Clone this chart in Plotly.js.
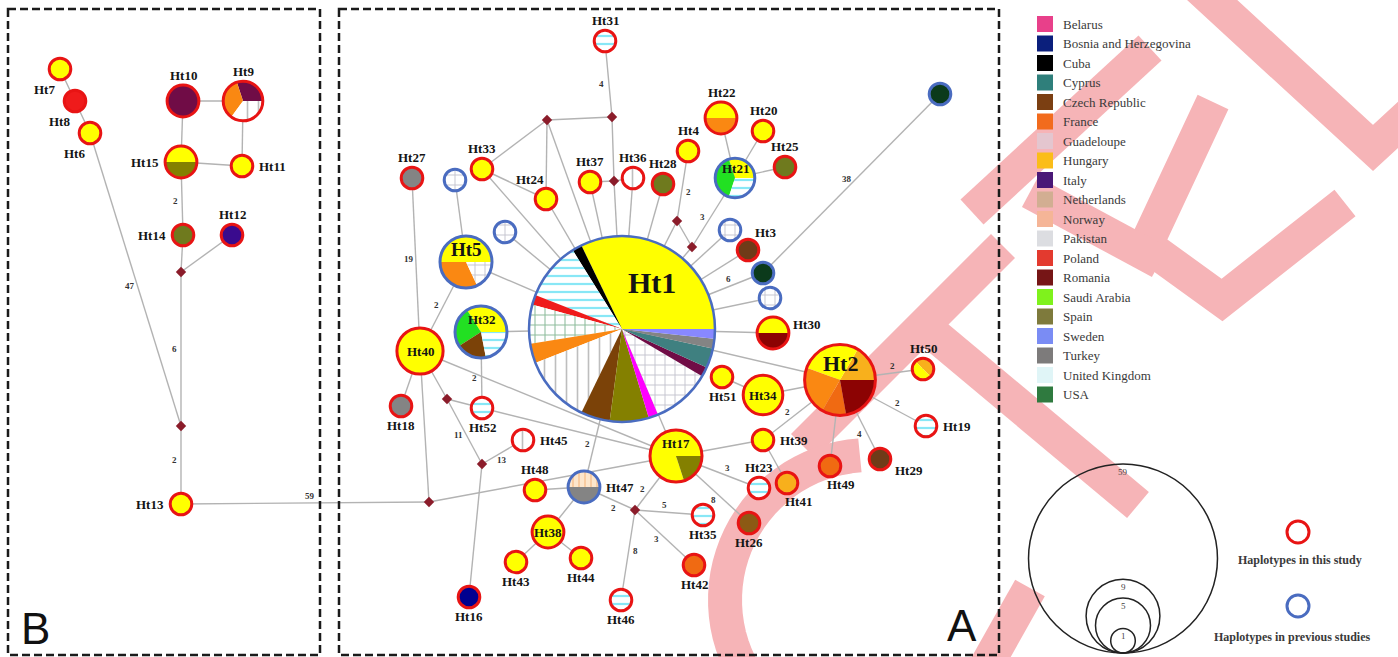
<!DOCTYPE html>
<html><head><meta charset="utf-8">
<script src="https://cdn.plot.ly/plotly-3.0.1.min.js"></script>
<style>html,body{margin:0;padding:0;background:#fff;}#chart{width:1398px;height:657px;}</style>
</head><body><div id="chart"></div>
<script>
// ---------------- DATA ----------------
const countries = ['Belarus','Bosnia and Herzegovina','Cuba','Cyprus','Czech Republic','France','Guadeloupe','Hungary','Italy','Netherlands','Norway','Pakistan','Poland','Romania','Saudi Arabia','Spain','Sweden','Turkey','United Kingdom','USA'];
const countryColors = ['#e8408a','#0b1f7c','#000000','#2f7f7b','#7b3f12','#f26b1d','#e4c6cf','#fbbd19','#4a1877','#d2ae92','#f5b597','#dcdde1','#e33a2f','#761516','#7ff21c','#7e7a3c','#7a8cf4','#7d7b7b','#e0f5f7','#2f7a3f'];

const nodeIds = ['Ht1','Ht2','Ht3','Ht4','Ht5','Ht6','Ht7','Ht8','Ht9','Ht10','Ht11','Ht12','Ht13','Ht14','Ht15','Ht16','Ht17','Ht18','Ht19','Ht20','Ht21','Ht22','Ht23','Ht24','Ht25','Ht26','Ht27','Ht28','Ht29','Ht30','Ht31','Ht32','Ht33','Ht34','Ht35','Ht36','Ht37','Ht38','Ht39','Ht40','Ht41','Ht42','Ht43','Ht44','Ht45','Ht46','Ht47','Ht48','Ht49','Ht50','Ht51','Ht52','p1','p2','p3','p4','p5','p6'];
const nodeX = [622,840,748,688,466,90,60,75,243,183,242,232,181,183,181,469,676,401,926,763,735,721,759,546,785,749,412,663,880,773,605,481,482,763,703,633,590,548,763,420,787,694,516,581,523,621,584,535,830,923,722,482,455,505,730,770,940,763];
const nodeY = [329,380,250,151,262,133,69,101,101,101,166,235,504,235,162,597,456,406,426,131,178,118,488,199,167,523,178,184,459,333,41,332,169,395,515,178,182,532,440,351,483,565,562,558,440,600,487,490,466,369,377,408,180,232,230,298,94,273];
const nodeCount = [59,9,1,1,5,1,1,1,3,2, 1,1,1,1,2,1,5,1,1,1, 3,2,1,1,1,1,1,1,1,2, 1,5,1,3,1,1,1,2,1,4, 1,1,1,1,1,1,2,1,1,1, 1,1,1,1,1,1,1,1];
const nodeStudy = ['P','T','T','T','P','T','T','T','T','T', 'T','T','T','T','T','T','T','T','T','T', 'P','T','T','T','T','T','T','T','T','T', 'T','P','T','T','T','T','T','T','T','T', 'T','T','T','T','T','T','P','T','T','T', 'T','T','P','P','P','P','P','P'];
const nodeFills = [
 ['yellow','black','hatchCyan','red','gridGreen','orange','hatchVert','brown','olive','magenta','gridGrey','maroon','teal','grey','lavender'],
 ['amber','yellow','orange','orange2','darkred'],
 ['rust'],['yellow'],['yellow','orange','gridGrey'],['yellow'],['yellow'],['red'],
 ['maroon','orange','white','hatchVert'],['maroon'],['yellow'],['indigo'],['yellow'],['olive2'],
 ['yellow','olive'],['navy'],['yellow','olive'],['grey'],['hatchCyan'],['yellow'],
 ['yellow','green','hatchCyan'],['yellow','orange'],['hatchCyan'],['yellow'],['olive2'],['umber'],
 ['grey'],['olive2'],['rust'],['yellow','darkred'],['hatchCyan'],['yellow','green','brown','hatchCyan'],
 ['yellow'],['yellow'],['hatchCyan'],['hatchVert'],['yellow'],['yellow'],['yellow'],['yellow'],
 ['amber'],['orange2'],['yellow'],['yellow'],['hatchVert'],['hatchCyan'],['hatchPeach','grey'],
 ['yellow'],['orange2'],['amber','yellow'],['yellow'],['hatchCyan'],
 ['gridGrey'],['gridGrey'],['gridGrey'],['gridGrey'],['darkgreen'],['darkgreen']
];
const nodeShares = [
 [19,1,6,1,4,2,7,3,4,1,6,1,2,1,1],
 [1.5,2.5,2,1,2],
 [1],[1],[2.5,1.6,0.9],[1],[1],[1],
 [0.9,1.05,0.3,0.75],[2],[1],[1],[1],[1],
 [1,1],[1],[4,1],[1],[1],[1],
 [0.9,1.2,0.9],[1,1],[1],[1],[1],[1],
 [1],[1],[1],[1,1],[1],[1.7,1.25,0.95,1.1],
 [1],[3],[1],[1],[1],[2],[1],[4],
 [1],[1],[1],[1],[1],[1],[1,1],
 [1],[1],[0.5,0.5],[1],[1],
 [1],[1],[1],[1],[1],[1]
];
const nodeStartDeg = nodeIds.map(id => id === 'Ht50' ? 315 : 0);
const nodeLabelPos = ['big','cu','ur','a','cu','bl','bl','bl','a','a', 'r','a','l','l','l','b','cu','b','r','a', 'cu','a','a','ul','a','b','a','a','rd','ru', 'a','cu','a','c','b','a','a','c','r','c', 'br','b','b','b','r','b','r','a','br','a', 'b','b','none','none','none','none','none','none'];

const medIds = ['mB0','mB1','mA','mB','mC','mD','mE','mF','mG','mH','mI'];
const medX = [181,181,547,612,614,677,692,447,482,429,635];
const medY = [272,426,120,117,181,221,247,399,464,502,510];

const edgeFrom = ['Ht7','Ht8','Ht6','Ht10','Ht10','Ht9','Ht15','Ht15','Ht14','Ht12','mB0','mB1','Ht13',
 'Ht27','Ht40','Ht32','mF','mG','Ht31','Ht4','mE','p6','p5','Ht2','Ht2','Ht2','Ht39','Ht47','Ht17','Ht47','mI','Ht17','Ht17','mI','mI',
 'mA','mA','mA','mA','Ht33','Ht33','p1','p2','Ht24','Ht37','mC','mC','mC','Ht37','Ht36','Ht28','mD','mD','mE','Ht21','Ht21','Ht21','p3','Ht3','p4','Ht30','Ht2','Ht32','Ht5','Ht40','Ht52','Ht1','Ht40','Ht40','mF','Ht40','mH','mG','Ht48','Ht47','Ht38','Ht38','Ht17','Ht39','Ht2','Ht34','Ht2'];
const edgeTo = ['Ht8','Ht6','mB1','Ht9','Ht15','Ht11','Ht11','Ht14','mB0','mB0','mB1','Ht13','mH',
 'Ht40','Ht5','Ht52','mG','Ht45','mB','mD','Ht21','Ht1','p6','Ht50','Ht19','Ht29','Ht2','Ht1','mI','mI','Ht35','Ht23','Ht26','Ht42','Ht46',
 'Ht33','mB','Ht24','Ht1','Ht24','Ht1','Ht5','Ht1','Ht1','mC','mB','Ht1','Ht36','Ht1','Ht1','Ht1','mE','Ht1','Ht1','Ht22','Ht20','Ht25','Ht1','Ht1','Ht1','Ht1','Ht1','Ht1','Ht1','Ht17','Ht17','Ht17','Ht18','mF','Ht52','mH','Ht17','Ht16','Ht47','Ht38','Ht43','Ht44','Ht39','Ht41','Ht34','Ht51','Ht49'];
const edgeSteps = ['','','47','','','','','2','','','6','2','59',
 '19','2','2','11','13','4','2','3','6','38','2','2','4','2','2','2','2','5','3','8','3','8'];
// which side of its edge the step count is printed on (1 = upper/left, -1 = opposite)
const edgeLabelSide = [1,1,1,1,1,1,1,1,1,1,1,1,1, 1,1,1,1,-1,1,-1,1,1,1,1,1,1,1,1,1,-1,1,1,-1,-1,-1];

const sizeLegendCounts = [59,9,5,1];
const studyLegendText = ['Haplotypes in this study','Haplotypes in previous studies'];

// ---------------- STYLE ----------------
const W = 1398, H = 657, K = 12.3;
const fillStyles = {
  yellow:{c:'#ffff00'}, amber:{c:'#f8b01c'}, orange:{c:'#fa8812'}, orange2:{c:'#f06a12'},
  red:{c:'#ef1b1b'}, darkred:{c:'#8c0303'}, olive:{c:'#848000'}, olive2:{c:'#6f7a1e'},
  brown:{c:'#7b4208'}, rust:{c:'#6f3b18'}, umber:{c:'#8c5a14'}, green:{c:'#22e022'},
  black:{c:'#000000'}, magenta:{c:'#ff00ff'}, maroon:{c:'#700c46'}, indigo:{c:'#3a0b8e'},
  teal:{c:'#3f8080'}, grey:{c:'#848484'}, lavender:{c:'#8888ff'}, navy:{c:'#00008f'},
  darkgreen:{c:'#0b3a1b'}, white:{c:'#ffffff'},
  hatchCyan:{c:'#ffffff', p:'-', f:'#12d0ee', s:8, d:0.28},
  hatchVert:{c:'#ffffff', p:'|', f:'#7e7e7e', s:11, d:0.15},
  gridGreen:{c:'#ffffff', p:'+', f:'#1d7a3c', s:10, d:0.2},
  gridGrey:{c:'#ffffff', p:'+', f:'#80809a', s:10, d:0.17},
  hatchPeach:{c:'#fde6cc', p:'|', f:'#f2a25a', s:6, d:0.25}
};
const RED = '#e81414', BLUE = '#4a6cc0';
const serif = 'Liberation Serif, Times New Roman, serif';

const rOf = n => K * Math.sqrt(n);
const pos = {};
nodeIds.forEach((id,i) => pos[id] = {x:nodeX[i], y:nodeY[i], r:rOf(nodeCount[i])});
medIds.forEach((id,i) => pos[id] = {x:medX[i], y:medY[i], r:3});

const traces = [], shapes = [], annotations = [];

// watermark (decorative stamp)
const wmPaths = ['M1185,-25 L1373,148 L1425,100','M1150,48 L972,212','M1213,102 L1146,245 L1222,300 L1345,203',
  'M1030,192 L1160,262','M912,316 L1138,505','M803,446 L1003,246','M1030,588 L985,668'];
let arc = '';
for (let a = 266; a >= 140; a -= 4) {
  const t = a*Math.PI/180;
  arc += (arc ? ' L' : 'M') + (870 + 145*Math.cos(t)).toFixed(1) + ',' + (600 + 145*Math.sin(t)).toFixed(1);
}
wmPaths.push(arc);
wmPaths.forEach(p => shapes.push({type:'path', path:p, xref:'x', yref:'y', layer:'below',
  line:{color:'#f6b4b7', width:34}, fillcolor:'rgba(0,0,0,0)'}));

// dashed panels
[[8,9,320,655],[339,9,999,655]].forEach(b => shapes.push({type:'rect', xref:'x', yref:'y', x0:b[0], y0:b[1], x1:b[2], y1:b[3],
  line:{color:'#1a1a1a', width:2.5, dash:'8px,4px'}, layer:'above'}));
annotations.push({x:35, y:628, xref:'x', yref:'y', text:'B', showarrow:false, font:{family:'Liberation Sans, Arial', size:44, color:'#111'}});
annotations.push({x:962, y:625, xref:'x', yref:'y', text:'A', showarrow:false, font:{family:'Liberation Sans, Arial', size:44, color:'#111'}});

// edges
const ex = [], ey = [];
edgeFrom.forEach((a,i) => { const A = pos[a], B = pos[edgeTo[i]]; ex.push(A.x, B.x, null); ey.push(A.y, B.y, null); });
traces.push({type:'scatter', mode:'lines', x:ex, y:ey, line:{color:'#b3b3b3', width:1.4}, hoverinfo:'skip', showlegend:false});
// mutation step labels
edgeSteps.forEach((s,i) => {
  if (!s) return;
  const A = pos[edgeFrom[i]], B = pos[edgeTo[i]];
  const dx = B.x - A.x, dy = B.y - A.y, L = Math.hypot(dx,dy), ux = dx/L, uy = dy/L;
  const sx = A.x + ux*A.r, sy = A.y + uy*A.r, tx = B.x - ux*B.r, ty = B.y - uy*B.r;
  let nx = -uy, ny = ux; if (nx + ny > 0) { nx = -nx; ny = -ny; }
  const sd = edgeLabelSide[i] * 7;
  annotations.push({x:(sx+tx)/2 + nx*sd, y:(sy+ty)/2 + ny*sd, xref:'x', yref:'y', text:'<b>'+s+'</b>', showarrow:false,
    font:{family:serif, size:9, color:'#333'}});
});
// median vectors
traces.push({type:'scatter', mode:'markers', x:medX, y:medY, marker:{symbol:'diamond', size:8, color:'#8b1c2a'}, hoverinfo:'skip', showlegend:false});

// legend squares
const legY = countries.map((c,i) => 24 + i*19.5);
traces.push({type:'scatter', mode:'markers', x:countries.map(() => 1045), y:legY,
  marker:{symbol:'square', size:16, color:countryColors}, hoverinfo:'skip', showlegend:false});
countries.forEach((c,i) => annotations.push({x:1061, y:legY[i], xref:'x', yref:'y', xanchor:'left', text:c, showarrow:false,
  font:{family:serif, size:13, color:'#3a3a3a'}}));

// node pies
const norm = a => ((a + 180) % 360 + 360) % 360 - 180;
nodeIds.forEach((id,i) => {
  const r = rOf(nodeCount[i]), rp = r - 2, cx = nodeX[i], cy = nodeY[i];
  const vals = nodeShares[i], tot = vals.reduce((a,b) => a+b, 0);
  const st = nodeFills[i].map(k => fillStyles[k]);
  traces.push({type:'pie', values:vals, sort:false, direction:'counterclockwise',
    rotation: norm(90 - nodeStartDeg[i] - vals[0]/tot*360),
    textinfo:'none', hoverinfo:'none', showlegend:false,
    domain:{x:[(cx-rp)/W, (cx+rp)/W], y:[1-(cy+rp)/H, 1-(cy-rp)/H]},
    marker:{colors:st.map(s => s.c), line:{width:0},
      pattern:{shape:st.map(s => s.p || ''), fgcolor:st.map(s => s.f || s.c), bgcolor:st.map(s => s.c),
        size:st.map(s => s.s || 8), solidity:st.map(s => s.d || 0.2), fillmode:'overlay'}}});
  const rb = r - 1.5;
  shapes.push({type:'circle', xref:'x', yref:'y', x0:cx-rb, x1:cx+rb, y0:cy-rb, y1:cy+rb, layer:'above',
    line:{color: nodeStudy[i] === 'T' ? RED : BLUE, width: id === 'Ht1' ? 2.5 : 3}});
  // label
  const lp = nodeLabelPos[i]; if (lp === 'none') return;
  const size = id === 'Ht1' ? 30 : id === 'Ht2' ? 22 : id === 'Ht5' ? 19 : 13;
  let lx = cx, ly = cy, xa = 'center';
  if (lp === 'a') ly = cy - r - 8;
  else if (lp === 'b') ly = cy + r + 7;
  else if (lp === 'l') { lx = cx - r - 3; xa = 'right'; }
  else if (lp === 'r') { lx = cx + r + 3; xa = 'left'; }
  else if (lp === 'cu') ly = cy - 0.45*r;
  else if (lp === 'ul') { lx = cx - 1.3*r; ly = cy - r - 7; }
  else if (lp === 'bl') { lx = cx - 1.3*r; ly = cy + r + 8; }
  else if (lp === 'br') { lx = cx + 0.9*r; ly = cy + r + 6; }
  else if (lp === 'ur') { lx = cx + 0.4*r; ly = cy - r - 5; xa = 'left'; }
  else if (lp === 'ru') { lx = cx + r + 1; ly = cy - 0.5*r; xa = 'left'; }
  else if (lp === 'rd') { lx = cx + r + 1; ly = cy + 0.9*r; xa = 'left'; }
  else if (lp === 'big') { lx = cx + 0.32*r; ly = cy - 0.49*r; }
  annotations.push({x:lx, y:ly, xref:'x', yref:'y', xanchor:xa, text:'<b>'+id+'</b>', showarrow:false,
    font:{family:serif, size:size, color:'#141414'}});
});

// size legend
const slx = 1123, slb = 653;
sizeLegendCounts.forEach(n => {
  const r = rOf(n);
  shapes.push({type:'circle', xref:'x', yref:'y', x0:slx-r, x1:slx+r, y0:slb-2*r, y1:slb, line:{color:'#222', width:1.5}, layer:'above'});
  annotations.push({x:slx, y:slb-2*r+8, xref:'x', yref:'y', text:String(n), showarrow:false, font:{family:serif, size:9, color:'#444'}});
});
// study legend
[[532,RED,560,1300],[606,BLUE,637,1292]].forEach((s,i) => {
  shapes.push({type:'circle', xref:'x', yref:'y', x0:1298-11, x1:1298+11, y0:s[0]-11, y1:s[0]+11, line:{color:s[1], width:3}, layer:'above'});
  annotations.push({x:s[3], y:s[2], xref:'x', yref:'y', text:'<b>'+studyLegendText[i]+'</b>', showarrow:false, font:{family:serif, size:12, color:'#3a3a3a'}});
});

const layout = {width:W, height:H, margin:{l:0,r:0,t:0,b:0}, paper_bgcolor:'#ffffff', plot_bgcolor:'rgba(0,0,0,0)',
  showlegend:false, hovermode:false,
  xaxis:{range:[0,W], visible:false, fixedrange:true}, yaxis:{range:[H,0], visible:false, fixedrange:true},
  shapes:shapes, annotations:annotations};
Plotly.newPlot('chart', traces, layout, {staticPlot:true, displayModeBar:false});
</script></body></html>
